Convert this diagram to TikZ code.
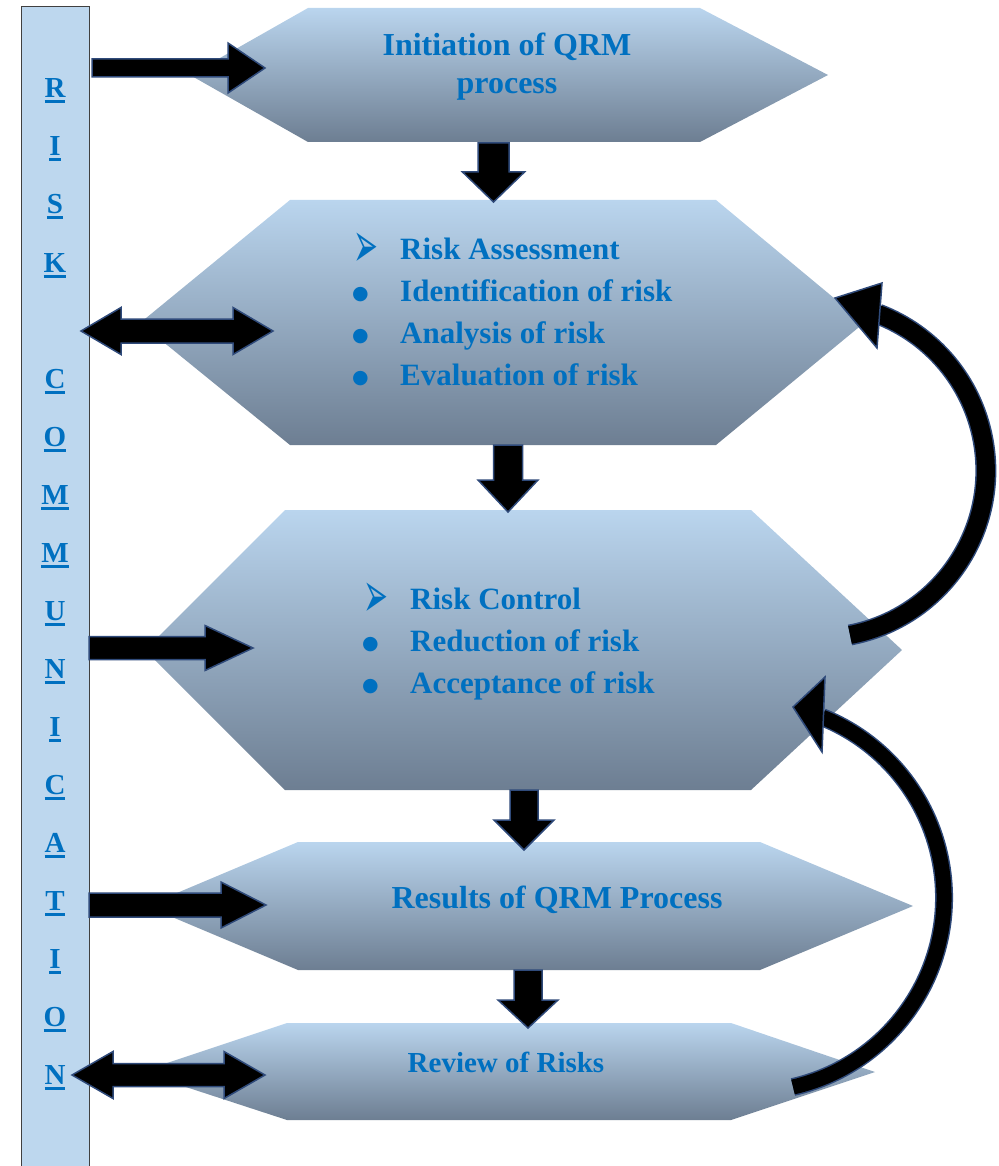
\documentclass[tikz,border=0pt]{standalone}
\usepackage{fontspec}
\setmainfont{Liberation Serif}
\newfontfamily\symfont{DejaVu Sans}
\usetikzlibrary{calc}

\definecolor{txtblue}{HTML}{0070C0}
\definecolor{barblue}{HTML}{BDD7EE}
\definecolor{hextop}{HTML}{BAD5EE}
\definecolor{hexbot}{HTML}{6D7E92}
\definecolor{edgeblue}{HTML}{2F4A7A}

% thick underline for the side bar letters
\newcommand{\ulined}[1]{\setbox0=\hbox{#1}\rlap{\rule[-5.5pt]{\wd0}{3pt}}\box0}

% block arrows: tail, tip, shaft half width, head half width, head length
\newcommand{\rightblk}[5]{%
  \filldraw[blockarrow] ($(#1)+(0,-#3)$) -- ($(#2)+(-#5,-#3)$) -- ($(#2)+(-#5,-#4)$)
    -- (#2) -- ($(#2)+(-#5,#4)$) -- ($(#2)+(-#5,#3)$) -- ($(#1)+(0,#3)$) -- cycle;}
\newcommand{\downblk}[5]{%
  \filldraw[blockarrow] ($(#1)+(-#3,0)$) -- ($(#2)+(-#3,-#5)$) -- ($(#2)+(-#4,-#5)$)
    -- (#2) -- ($(#2)+(#4,-#5)$) -- ($(#2)+(#3,-#5)$) -- ($(#1)+(#3,0)$) -- cycle;}
\newcommand{\bothblk}[5]{%
  \filldraw[blockarrow] (#1) -- ($(#1)+(#5,-#4)$) -- ($(#1)+(#5,-#3)$) -- ($(#2)+(-#5,-#3)$)
    -- ($(#2)+(-#5,-#4)$) -- (#2) -- ($(#2)+(-#5,#4)$) -- ($(#2)+(-#5,#3)$)
    -- ($(#1)+(#5,#3)$) -- ($(#1)+(#5,#4)$) -- cycle;}

\begin{document}
\begin{tikzpicture}[x=1pt,y=-1pt,
  hexa/.style={top color=hextop,bottom color=hexbot},
  blockarrow/.style={fill=black,draw=edgeblue,line width=1.5pt,line join=miter},
  loopedge/.style={draw=edgeblue},
  letter/.style={font=\bfseries\fontsize{29}{29}\selectfont,text=txtblue,inner sep=0,anchor=base},
  title/.style={font=\bfseries\fontsize{32}{32}\selectfont,text=txtblue,inner sep=0,anchor=base},
  item/.style={font=\bfseries\fontsize{31}{31}\selectfont,text=txtblue,inner sep=0,anchor=base west},
  pointer/.style={font=\symfont\fontsize{48}{48}\selectfont,text=txtblue,inner sep=0,anchor=base west},
  dot/.style={font=\symfont\fontsize{19}{19}\selectfont,text=txtblue,inner sep=0,anchor=base west}]
  \useasboundingbox (0,0) rectangle (998,1166);

  % communication bar
  \draw[draw=black!75,fill=barblue,line width=1pt] (21,7) rectangle (89,1180);
  \foreach \l [count=\i] in {R,I,S,K}
    \node[letter] (risk-\i) at (55,40+58*\i) {\ulined{\l}};
  \foreach \l [count=\i] in {C,O,M,M,U,N,I,C,A,T,I,O,N}
    \node[letter] (comm-\i) at (55,330+58*\i) {\ulined{\l}};

  % process steps
  \shade[hexa] (308,8) -- (700,8) -- (828,75) -- (700,142) -- (308,142) -- (190,75) -- cycle;
  \shade[hexa] (290,200) -- (716,200) -- (864,323) -- (716,445) -- (290,445) -- (140,323) -- cycle;
  \shade[hexa] (285,510) -- (751,510) -- (902,650) -- (751,790) -- (285,790) -- (145,650) -- cycle;
  \shade[hexa] (298,842) -- (760,842) -- (913,906) -- (760,970) -- (298,970) -- (146,906) -- cycle;
  \shade[hexa] (287,1023) -- (731,1023) -- (875,1072) -- (731,1120) -- (287,1120) -- (140,1072) -- cycle;

  % arrow ends
  \coordinate (bar-1) at (92,68);   \coordinate (init-w) at (265,68);
  \coordinate (bar-2) at (81,331);  \coordinate (assess-w) at (273,331);
  \coordinate (bar-3) at (89,648);  \coordinate (ctrl-w) at (253,648);
  \coordinate (bar-4) at (89,905);  \coordinate (res-w) at (266,905);
  \coordinate (bar-5) at (72,1075); \coordinate (rev-w) at (265,1075);
  \coordinate (init-s) at (493.5,143);  \coordinate (assess-n) at (493.5,202);
  \coordinate (assess-s) at (508,445);  \coordinate (ctrl-n) at (508,512);
  \coordinate (ctrl-s) at (524,790);    \coordinate (res-n) at (524,850);
  \coordinate (res-s) at (528,970);     \coordinate (rev-n) at (528,1028);

  \rightblk{bar-1}{init-w}{9}{25}{37}
  \bothblk{bar-2}{assess-w}{12}{23.5}{40}
  \rightblk{bar-3}{ctrl-w}{11.5}{22.5}{48}
  \rightblk{bar-4}{res-w}{12}{23}{45}
  \bothblk{bar-5}{rev-w}{11.5}{23.5}{41}

  \downblk{init-s}{assess-n}{15.5}{31}{30}
  \downblk{assess-s}{ctrl-n}{14.5}{30}{32}
  \downblk{ctrl-s}{res-n}{14}{30}{30}
  \downblk{res-s}{rev-n}{14}{30}{28}

  % feedback loops
  \coordinate (ctrl-e) at (850,635);  \coordinate (assess-e) at (835,298);
  \draw[loopedge,line width=21pt] (ctrl-e) arc[start angle=79.1,end angle=-69.1,radius=167.5];
  \draw[line width=18pt] (ctrl-e) arc[start angle=79.1,end angle=-69.1,radius=167.5];
  \filldraw[blockarrow] (assess-e) -- ++(47,-15) -- ++(-5,65) -- cycle;

  \coordinate (rev-e) at (793,1087);  \coordinate (ctrl-se) at (793,707);
  \draw[loopedge,line width=18pt] (rev-e) arc[start angle=77.1,end angle=-68.1,radius=194.4];
  \draw[line width=15pt] (rev-e) arc[start angle=77.1,end angle=-68.1,radius=194.4];
  \filldraw[blockarrow] (ctrl-se) -- ++(32,-30) -- ++(-3,75) -- cycle;

  % texts
  \node[title] (init) at (507,56) {Initiation of QRM};
  \node[title] (init-b) at (507,94) {process};

  \node[pointer] (assess-p) at (353,267) {\scalebox{0.62}[1.35]{➢}};
  \node[item] (assess) at (400,259) {Risk Assessment};
  \foreach \t [count=\i] in {Identification of risk,Analysis of risk,Evaluation of risk} {
    \node[dot] (assess-d\i) at (352,257+42.3*\i) {●};
    \node[item] (assess-\i) at (400,259+42.3*\i) {\t};
  }

  \node[pointer] (ctrl-p) at (363,617) {\scalebox{0.62}[1.35]{➢}};
  \node[item] (ctrl) at (410,609) {Risk Control};
  \foreach \t [count=\i] in {Reduction of risk,Acceptance of risk} {
    \node[dot] (ctrl-d\i) at (362,607+42*\i) {●};
    \node[item] (ctrl-\i) at (410,609+42*\i) {\t};
  }

  \node[title] (res) at (557,908) {Results of QRM Process};
  \node[title,font=\bfseries\fontsize{29}{29}\selectfont] (rev) at (506,1072) {Review of Risks};
\end{tikzpicture}
\end{document}
